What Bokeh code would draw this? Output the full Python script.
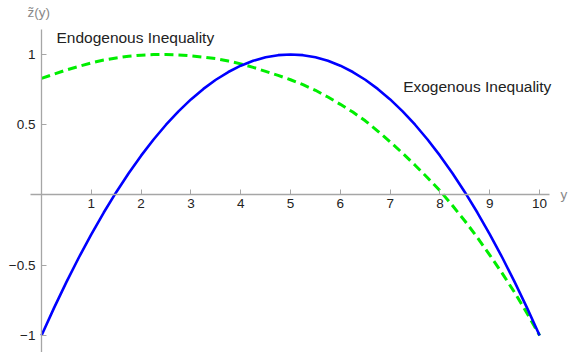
from bokeh.plotting import figure
from bokeh.models import FixedTicker, Label, Range1d
from bokeh.embed import file_html
from bokeh.resources import INLINE

# Sampled curves, y from 0 to 10 in steps of 0.25
y_vals = [0.0, 0.25, 0.5, 0.75, 1.0, 1.25, 1.5, 1.75, 2.0, 2.25, 2.5, 2.75,
          3.0, 3.25, 3.5, 3.75, 4.0, 4.25, 4.5, 4.75, 5.0, 5.25, 5.5, 5.75,
          6.0, 6.25, 6.5, 6.75, 7.0, 7.25, 7.5, 7.75, 8.0, 8.25, 8.5, 8.75,
          9.0, 9.25, 9.5, 9.75, 10.0]
exogenous = [-1.0, -0.805, -0.62, -0.445, -0.28, -0.125, 0.02, 0.155, 0.28, 0.395,
             0.5, 0.595, 0.68, 0.755, 0.82, 0.875, 0.92, 0.955, 0.98, 0.995,
             1.0, 0.995, 0.98, 0.955, 0.92, 0.875, 0.82, 0.755, 0.68, 0.595,
             0.5, 0.395, 0.28, 0.155, 0.02, -0.125, -0.28, -0.445, -0.62, -0.805,
             -1.0]
endogenous = [0.83, 0.86, 0.89, 0.915, 0.94, 0.96, 0.975, 0.987, 0.995, 0.999,
              1.0, 0.997, 0.99, 0.981, 0.97, 0.953, 0.933, 0.908, 0.88, 0.851,
              0.82, 0.785, 0.745, 0.697, 0.645, 0.59, 0.528, 0.455, 0.378, 0.297,
              0.212, 0.123, 0.03, -0.075, -0.185, -0.303, -0.428, -0.558, -0.695,
              -0.843, -1.0]

x_ticks = [1, 2, 3, 4, 5, 6, 7, 8, 9, 10]
y_ticks = [-1, -0.5, 0.5, 1]
y_tick_labels = {-1: "\u22121", -0.5: "\u22120.5", 0.5: "0.5", 1: "1"}

FONT = "Liberation Sans"
AXIS_GRAY = "#a6a6a6"

p = figure(width=570, height=352, output_backend="svg", toolbar_location=None,
           x_range=Range1d(-0.823, 10.62), y_range=Range1d(-1.121, 1.384),
           min_border=0)
p.outline_line_color = None
p.grid.visible = False

# Axes crossing at the origin
p.xaxis.fixed_location = 0
p.yaxis.fixed_location = 0
p.xaxis.bounds = (-0.22, 10.2)
p.yaxis.bounds = (-1.2, 1.18)
p.xaxis.ticker = FixedTicker(ticks=x_ticks)
p.yaxis.ticker = FixedTicker(ticks=y_ticks)
p.yaxis.major_label_overrides = y_tick_labels
for ax in (p.xaxis, p.yaxis):
    ax.axis_line_color = AXIS_GRAY
    ax.axis_line_width = 1.3
    ax.major_tick_line_color = AXIS_GRAY
    ax.major_tick_in = 5
    ax.major_tick_out = 0
    ax.minor_tick_line_color = None
    ax.major_label_text_font = FONT
    ax.major_label_text_font_size = "13.5px"
    ax.major_label_text_color = "#222222"
p.xaxis.major_label_standoff = 4
p.yaxis.major_label_standoff = 6

p.line(y_vals, endogenous, line_color="#00ee00", line_width=3, line_dash="9 5",
       line_join="round")
p.line(y_vals, exogenous, line_color="#0000ff", line_width=2.6, line_join="round")

p.add_layout(Label(x=0.3, y=1.12, text="Endogenous Inequality", text_font=FONT,
                   text_font_size="15.5px", text_color="#222222", text_baseline="middle"))
p.add_layout(Label(x=7.26, y=0.772, text="Exogenous Inequality", text_font=FONT,
                   text_font_size="15.5px", text_color="#222222", text_baseline="middle"))
p.add_layout(Label(x=-0.28, y=1.30, text="z\u0303(y)", text_font=FONT,
                   text_font_size="13.5px", text_color="#888888", text_baseline="middle"))
p.add_layout(Label(x=10.42, y=0.0, text="y", text_font=FONT,
                   text_font_size="13.5px", text_color="#888888", text_baseline="middle"))

open("out.html", "w").write(file_html(p, INLINE))
